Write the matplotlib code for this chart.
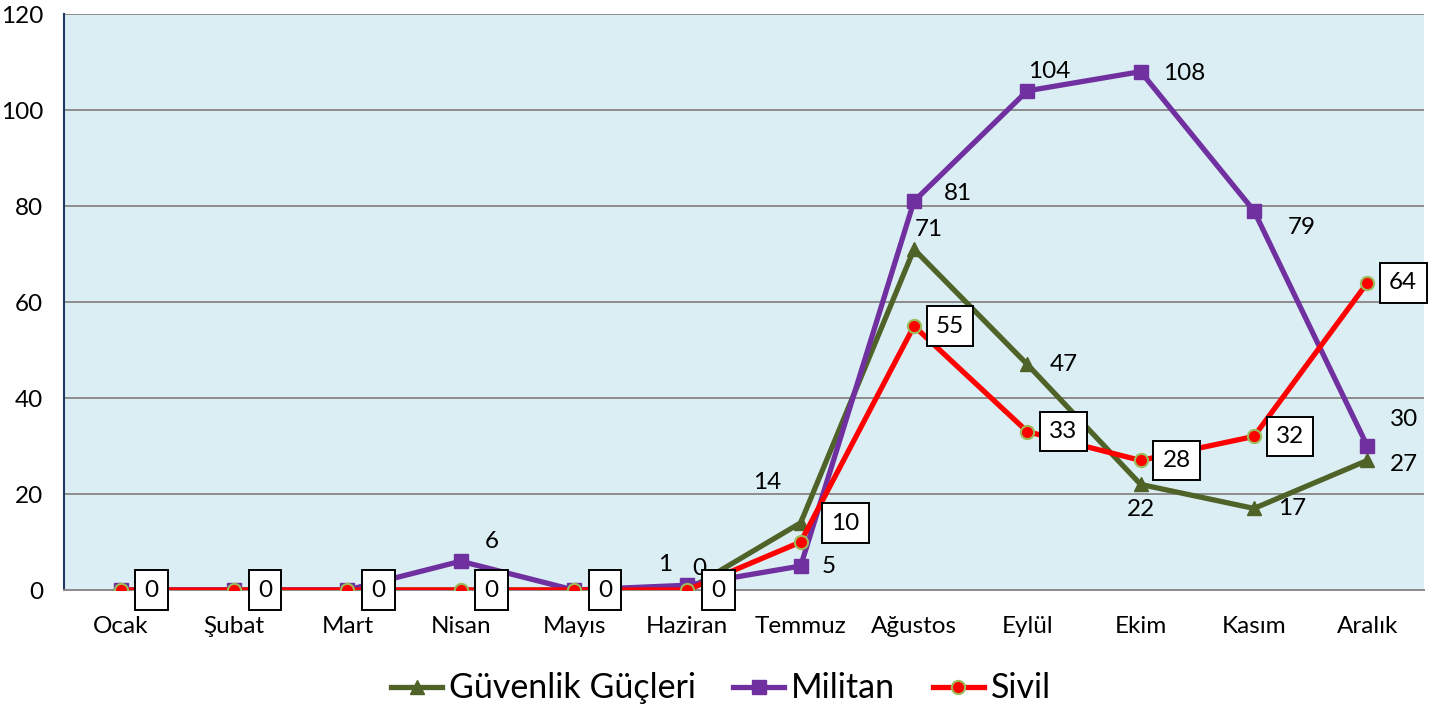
import matplotlib
matplotlib.use("Agg")
import matplotlib.pyplot as plt
from matplotlib.lines import Line2D

plt.rcParams['font.family'] = ['Lato', 'DejaVu Sans']

months = ["Ocak", "Şubat", "Mart", "Nisan", "Mayıs", "Haziran",
          "Temmuz", "Ağustos", "Eylül", "Ekim", "Kasım", "Aralık"]
guvenlik = [0, 0, 0, 0, 0, 0, 14, 71, 47, 22, 17, 27]
militan = [0, 0, 0, 6, 0, 1, 5, 81, 104, 108, 79, 30]
sivil = [0, 0, 0, 0, 0, 0, 10, 55, 33, 27, 32, 64]
sivil_labels = ["0", "0", "0", "0", "0", "0", "10", "55", "33", "28", "32", "64"]
yticks = [0, 20, 40, 60, 80, 100, 120]

C_G = "#4F6228"
C_M = "#7030A0"
C_S = "#FF0000"
C_SE = "#9BBB59"
FS = 17.5

fig = plt.figure(figsize=(14.42, 7.09), dpi=100)
ax = fig.add_axes([0.0444, 0.1678, 0.9431, 0.8124])
ax.set_facecolor("#DBEEF3")

x = list(range(len(months)))
ax.plot(x, guvenlik, color=C_G, lw=3.8, marker='^', ms=10, mfc=C_G, mec=C_G, zorder=3)
ax.plot(x, militan, color=C_M, lw=3.8, marker='s', ms=10, mfc=C_M, mec=C_M, zorder=4)
ax.plot(x, sivil, color=C_S, lw=3.8, marker='o', ms=9.5, mfc=C_S, mec=C_SE, mew=1.5, zorder=5)

ax.set_xlim(-0.5, len(months) - 0.5)
ax.set_ylim(0, 120)
ax.set_yticks(yticks)
ax.set_xticks(x)
ax.set_xticklabels(months)
ax.tick_params(axis='both', length=0, labelsize=FS)
ax.tick_params(axis='y', pad=15)
ax.tick_params(axis='x', pad=19)
ax.grid(axis='y', color="#8C8C8C", lw=1.4, zorder=1)
ax.set_axisbelow(True)
for s in ['top', 'right']:
    ax.spines[s].set_visible(False)
ax.spines['left'].set_color("#1F3864")
ax.spines['left'].set_linewidth(1.5)
ax.spines['bottom'].set_color("#8C8C8C")
ax.spines['bottom'].set_linewidth(1.4)

# label offsets in pixels (dx, dy) - styling only
m_off = {3: (31, 20), 5: (-22, 21), 6: (28, 0), 7: (44, 8), 8: (22, 19),
         9: (44, -2), 10: (48, -17), 11: (37, 27)}
g_off = {5: (12, 22), 6: (-33, 40), 7: (15, 20), 8: (36, 0), 9: (0, -25),
         10: (38, 0), 11: (37, -4)}
s_off = {6: (45, 19)}

for i, (dx, dy) in m_off.items():
    ax.annotate(str(militan[i]), (i, militan[i]), xytext=(dx, dy),
                textcoords='offset pixels', ha='center', va='center',
                fontsize=FS, zorder=7)
for i, (dx, dy) in g_off.items():
    ax.annotate(str(guvenlik[i]), (i, guvenlik[i]), xytext=(dx, dy),
                textcoords='offset pixels', ha='center', va='center',
                fontsize=FS, zorder=7)
for i in x:
    dx, dy = s_off.get(i, (36 if sivil[i] else 31, 0))
    ax.annotate(sivil_labels[i], (i, sivil[i]), xytext=(dx, dy),
                textcoords='offset pixels', ha='center', va='center',
                fontsize=FS, zorder=8, annotation_clip=False,
                bbox=dict(boxstyle='square,pad=0.38', fc='white', ec='black', lw=1.4))

handles = [
    Line2D([], [], color=C_G, lw=3.8, marker='^', ms=10, mfc=C_G, mec=C_G),
    Line2D([], [], color=C_M, lw=3.8, marker='s', ms=10, mfc=C_M, mec=C_M),
    Line2D([], [], color=C_S, lw=3.8, marker='o', ms=9.5, mfc=C_S, mec=C_SE, mew=1.5),
]
fig.legend(handles, ["Güvenlik Güçleri", "Militan", "Sivil"], loc='center',
           bbox_to_anchor=(0.5, 0.029), ncol=3, frameon=False, fontsize=24.5,
           handlelength=1.5, handletextpad=0.2, columnspacing=1.1)

fig.savefig("out.png", dpi=100)
